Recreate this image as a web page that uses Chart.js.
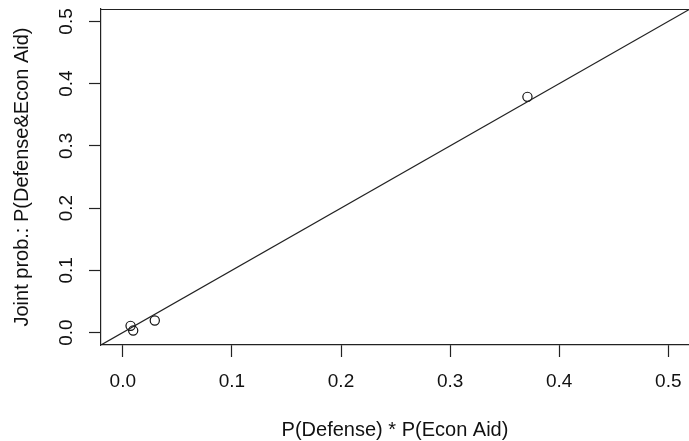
<!DOCTYPE html>
<html>
<head>
<meta charset="utf-8">
<title>Joint vs product probability</title>
<script src="https://cdn.jsdelivr.net/npm/chart.js@4/dist/chart.umd.min.js"></script>
<style>
  html, body { margin: 0; padding: 0; background: #fff; overflow: hidden; }
  #wrap { width: 689px; height: 441px; }
</style>
</head>
<body>
<div id="wrap"><canvas id="chart" width="689" height="441"></canvas></div>
<script>
// values
const productProb = [0.0071, 0.0095, 0.0293, 0.3709];   // P(Defense) * P(Econ Aid)
const jointProb   = [0.0108, 0.0032, 0.0193, 0.3788];   // P(Defense & Econ Aid)
const tickValues  = [0, 0.1, 0.2, 0.3, 0.4, 0.5];
const xLimits = [-0.02, 0.519];   // right side of the plot is cropped
const yLimits = [-0.02, 0.52];

const FONT = '"Liberation Sans", Arial, Helvetica, sans-serif';
const INK = '#111';
const LINE = '#222';

// abline(0, 1), top of the box and the rotated y tick labels (R style)
const rPlot = {
  id: 'rPlot',
  afterDatasetsDraw(chart) {
    const { ctx, chartArea: a, scales: { x, y } } = chart;
    const lo = Math.min(x.min, y.min), hi = Math.max(x.max, y.max);
    ctx.save();
    ctx.beginPath();
    ctx.rect(a.left, a.top, a.right - a.left, a.bottom - a.top);
    ctx.clip();
    ctx.strokeStyle = LINE;
    ctx.lineWidth = 1.2;
    ctx.beginPath();
    ctx.moveTo(x.getPixelForValue(lo), y.getPixelForValue(lo));
    ctx.lineTo(x.getPixelForValue(hi), y.getPixelForValue(hi));
    ctx.stroke();
    ctx.restore();
  },
  afterDraw(chart) {
    const { ctx, chartArea: a, scales: { y } } = chart;
    ctx.save();
    ctx.strokeStyle = LINE;
    ctx.lineWidth = 1.2;
    ctx.beginPath();
    ctx.moveTo(a.left, Math.round(a.top) + 0.5);
    ctx.lineTo(a.right, Math.round(a.top) + 0.5);
    ctx.stroke();

    ctx.fillStyle = INK;
    ctx.font = '19px ' + FONT;
    ctx.textAlign = 'center';
    ctx.textBaseline = 'alphabetic';
    y.ticks.forEach(t => {
      ctx.save();
      ctx.translate(71.5, y.getPixelForValue(t.value));
      ctx.rotate(-Math.PI / 2);
      ctx.fillText(t.value.toFixed(1), 0, 0);
      ctx.restore();
    });
    ctx.restore();
  }
};

// stop Chart.js from shrinking the plot to make room for end labels
function noEdgePadding(s) {
  s.paddingLeft = 0; s.paddingRight = 0; s.paddingTop = 0; s.paddingBottom = 0;
}

new Chart(document.getElementById('chart'), {
  type: 'scatter',
  data: {
    datasets: [{
      data: productProb.map((v, i) => ({ x: v, y: jointProb[i] })),
      pointStyle: 'circle',
      pointRadius: 4.6,
      borderColor: INK,
      borderWidth: 1.2,
      backgroundColor: 'rgba(0,0,0,0)'
    }]
  },
  options: {
    responsive: false,
    animation: false,
    layout: { autoPadding: false, padding: { top: 9, left: 0, right: 0, bottom: 0 } },
    plugins: { legend: { display: false }, tooltip: { enabled: false } },
    scales: {
      x: {
        type: 'linear',
        min: xLimits[0], max: xLimits[1],
        afterBuildTicks: s => { s.ticks = tickValues.map(v => ({ value: v })); },
        afterFit: s => { s.height = 96; noEdgePadding(s); },
        grid: { drawOnChartArea: false, drawTicks: true, tickLength: 12, tickWidth: 1.2, tickColor: LINE },
        border: { display: true, color: LINE, width: 1.2 },
        ticks: {
          font: { family: FONT, size: 19 }, color: INK, padding: 13,
          maxRotation: 0, autoSkip: false,
          callback: v => v.toFixed(1)
        },
        title: {
          display: true, text: 'P(Defense) * P(Econ Aid)',
          font: { family: FONT, size: 20, lineHeight: 1 }, color: INK,
          padding: { top: 0, bottom: 1 }
        }
      },
      y: {
        type: 'linear',
        min: yLimits[0], max: yLimits[1],
        afterBuildTicks: s => { s.ticks = tickValues.map(v => ({ value: v })); },
        afterFit: s => { s.width = 101; noEdgePadding(s); },
        grid: { drawOnChartArea: false, drawTicks: true, tickLength: 12, tickWidth: 1.2, tickColor: LINE },
        border: { display: true, color: LINE, width: 1.2 },
        ticks: { display: false },
        title: {
          display: true, text: 'Joint prob.: P(Defense&Econ Aid)',
          font: { family: FONT, size: 20, lineHeight: 1 }, color: INK,
          padding: { top: 12, bottom: 0 }
        }
      }
    }
  },
  plugins: [rPlot]
});
</script>
</body>
</html>
